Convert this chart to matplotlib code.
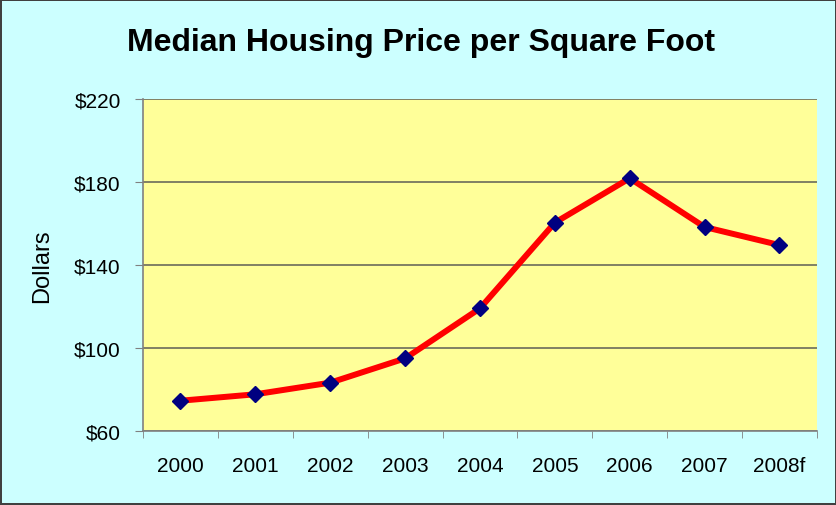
import numpy as np
import matplotlib.pyplot as plt

# values
years = ['2000', '2001', '2002', '2003', '2004', '2005', '2006', '2007', '2008f']
price = [74.6, 77.7, 83.3, 95.0, 119.1, 160.4, 181.8, 158.3, 149.6]
yticks = [60, 100, 140, 180, 220]

plt.rcParams['font.family'] = ['Liberation Sans', 'DejaVu Sans']

fig = plt.figure(figsize=(8.37, 5.06), dpi=100)
fig.patch.set_facecolor('#CCFFFF')
fig.patch.set_edgecolor('#404040')
fig.patch.set_linewidth(1.5)

ax = fig.add_axes([0.1709, 0.1462, 0.976 - 0.1709, 0.8024 - 0.1462])
ax.set_facecolor('#FFFF99')

x = np.arange(len(years))
ax.plot(x, price, color='#FF0000', lw=4.3, marker='D', markersize=8,
        markerfacecolor='#000080', markeredgecolor='#000080', zorder=3)

ax.set_xlim(-0.5, len(years) - 0.5)
ax.set_ylim(60, 220)
ax.set_yticks(yticks)
ax.set_yticklabels(['$%d' % v for v in yticks])
ax.set_xticks(x)
ax.set_xticklabels(years)
ax.set_xticks(np.arange(-0.5, len(years)), minor=True)
ax.tick_params(axis='x', which='major', length=0, pad=18, labelsize=15)
ax.tick_params(axis='x', which='minor', length=5, color='#808080', direction='out')
ax.tick_params(axis='y', length=6, color='#808080', direction='out', pad=10, labelsize=15)

ax.grid(axis='y', color='#6b6b5b', lw=1.2)
ax.set_axisbelow(True)
for side in ['top', 'right']:
    ax.spines[side].set_visible(False)
for side in ['left', 'bottom']:
    ax.spines[side].set_color('#808080')
    ax.spines[side].set_linewidth(1.2)

ax.set_ylabel('Dollars', fontsize=17)
ax.yaxis.set_label_coords(-0.133, 0.5)
fig.text(0.503, 0.915, 'Median Housing Price per Square Foot', ha='center', va='center',
         fontsize=23, fontweight='bold')

fig.savefig('out.png', dpi=100, facecolor=fig.get_facecolor(), edgecolor=fig.get_edgecolor())
